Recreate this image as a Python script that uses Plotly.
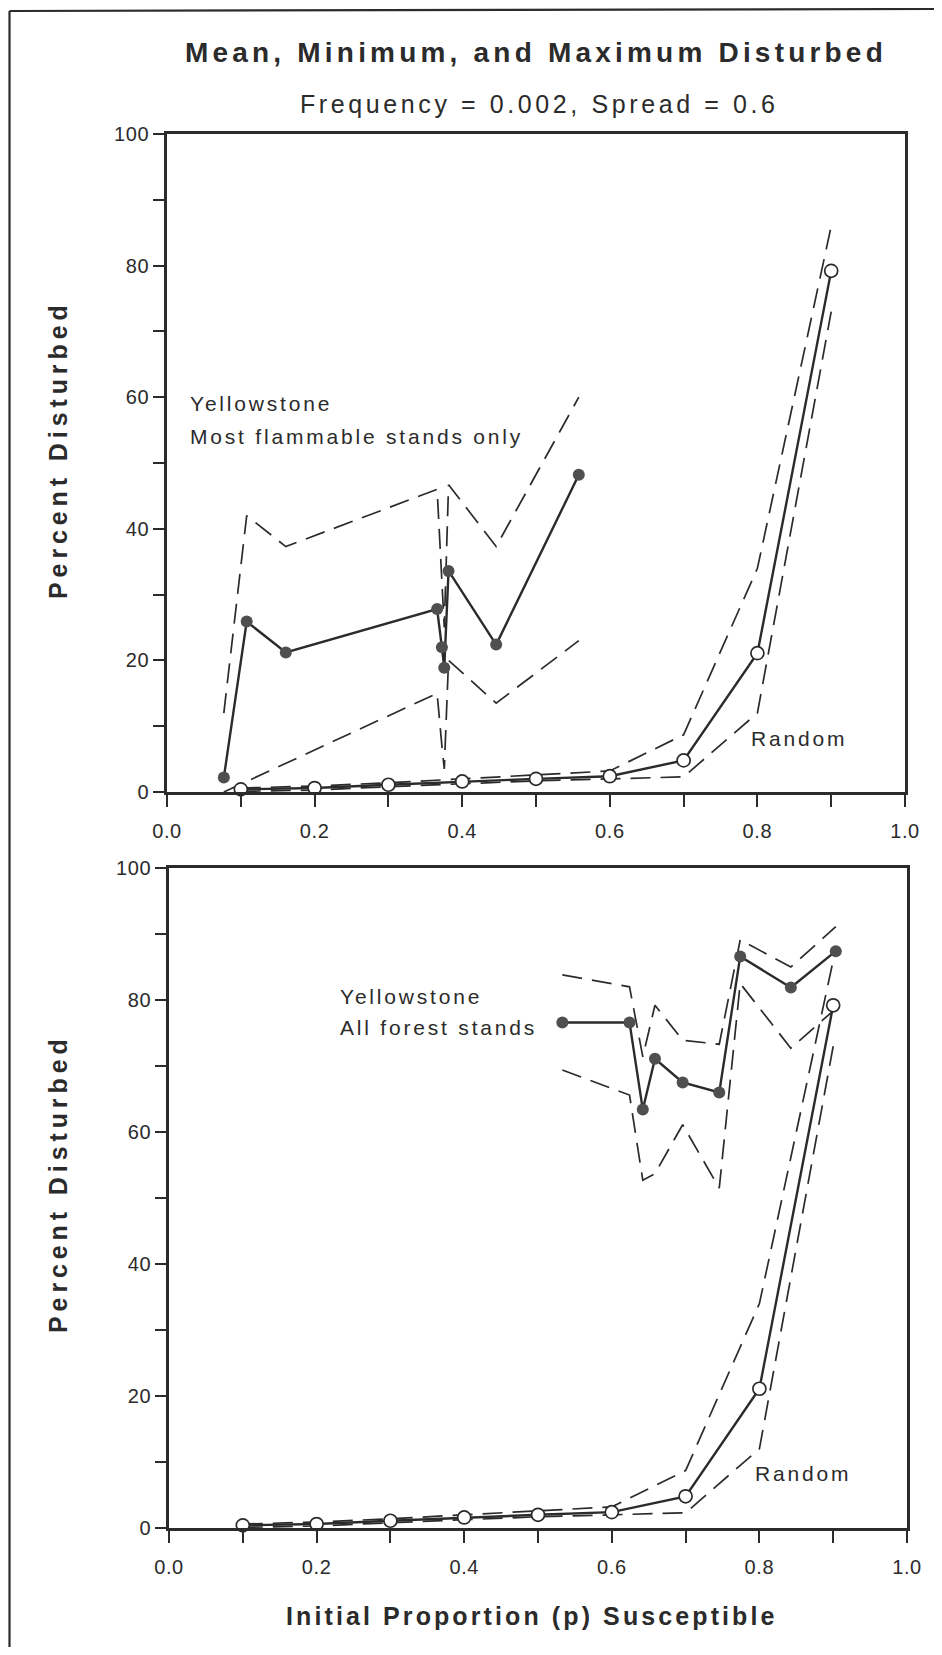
import plotly.graph_objects as go

# The page body has an 8px margin, so the figure is sized to fit inside it.
W, H = 926, 1639
OFF = 8

# ---------------- data ----------------
# Top panel: Yellowstone, most flammable stands only
yf_x = [0.077, 0.108, 0.161, 0.366, 0.3725, 0.3757, 0.3815, 0.446, 0.558]
yf_mean = [2.2, 25.9, 21.2, 27.8, 22.0, 18.9, 33.6, 22.4, 48.2]
yf_max = [12.0, 42.0, 37.3, 46.0, 32.0, 25.0, 46.7, 37.3, 60.0]
yf_min = [0.0, 1.6, 4.4, 15.0, 7.0, 3.5, 20.0, 13.5, 23.0]

# Bottom panel: Yellowstone, all forest stands
ya_x = [0.533, 0.624, 0.642, 0.6585, 0.696, 0.7456, 0.774, 0.8426, 0.9035]
ya_mean = [76.6, 76.6, 63.4, 71.1, 67.5, 66.0, 86.6, 81.9, 87.4]
ya_max = [83.8, 82.0, 71.4, 79.2, 73.9, 73.3, 89.1, 85.0, 91.1]
ya_min = [69.4, 65.6, 52.7, 53.7, 61.1, 51.5, 82.5, 72.7, 78.7]

# Random landscapes (both panels)
rnd_x = [0.1, 0.2, 0.3, 0.4, 0.5, 0.6, 0.7, 0.8, 0.9]
rnd_mean = [0.4, 0.6, 1.1, 1.6, 2.0, 2.4, 4.8, 21.1, 79.2]
rnd_max = [0.6, 0.9, 1.4, 2.0, 2.6, 3.2, 8.7, 34.0, 86.0]
rnd_min = [0.1, 0.3, 0.8, 1.3, 1.7, 2.0, 2.3, 12.0, 73.0]

x_ticks = [0.0, 0.2, 0.4, 0.6, 0.8, 1.0]
x_ticklabels = ["0.0", "0.2", "0.4", "0.6", "0.8", "1.0"]
y_ticks = [0, 20, 40, 60, 80, 100]
y_ticklabels = ["0", "20", "40", "60", "80", "100"]

title_text = "Mean, Minimum, and Maximum Disturbed"
subtitle_text = "Frequency = 0.002, Spread = 0.6"
y_title = "Percent Disturbed"
x_title = "Initial Proportion (p) Susceptible"

# ---------------- style ----------------
FONT = "Liberation Sans, Arial, Helvetica, sans-serif"
INK = "#2b2b2b"
DASH = "20px,10px"


def sp(text, ls):
    return f'<span style="letter-spacing:{ls}px">{text}</span>'


fig = go.Figure()


def add_group(xs, mean, mx, mn, axis, filled):
    xa, ya = axis
    for series in (mx, mn):
        fig.add_trace(go.Scatter(
            x=xs, y=series, mode="lines", xaxis=xa, yaxis=ya,
            line=dict(color=INK, width=1.7, dash=DASH),
            showlegend=False, hoverinfo="skip", cliponaxis=False))
    if filled:
        marker = dict(size=12, color="#4f4f4f", line=dict(width=0))
    else:
        marker = dict(size=13, color="white", line=dict(color=INK, width=1.7))
    fig.add_trace(go.Scatter(
        x=xs, y=mean, mode="lines+markers", xaxis=xa, yaxis=ya,
        line=dict(color=INK, width=2.4), marker=marker,
        showlegend=False, cliponaxis=False))


add_group(yf_x, yf_mean, yf_max, yf_min, ("x", "y"), True)
add_group(rnd_x, rnd_mean, rnd_max, rnd_min, ("x", "y"), False)
add_group(ya_x, ya_mean, ya_max, ya_min, ("x2", "y2"), True)
add_group(rnd_x, rnd_mean, rnd_max, rnd_min, ("x2", "y2"), False)

tick_font = dict(family=FONT, size=20, color=INK)


def xaxis_cfg(domain, anchor):
    return dict(domain=domain, anchor=anchor, range=[0, 1], showgrid=False, zeroline=False,
                automargin=False,
                showline=True, mirror=True, linecolor=INK, linewidth=2.7,
                ticks="outside", ticklen=12, tickwidth=1.5, tickcolor=INK,
                ticklabelstandoff=7,
                tickvals=x_ticks, ticktext=[sp(t, 0.6) for t in x_ticklabels],
                tickfont=tick_font,
                minor=dict(dtick=0.1, tick0=0, ticks="outside", ticklen=12,
                           tickwidth=1.5, tickcolor=INK, showgrid=False))


def yaxis_cfg(domain, anchor):
    return dict(domain=domain, anchor=anchor, range=[0, 100], showgrid=False, zeroline=False,
                automargin=False,
                showline=True, mirror=True, linecolor=INK, linewidth=2.7,
                ticks="outside", ticklen=11, tickwidth=1.5, tickcolor=INK,
                tickvals=y_ticks, ticktext=[sp(t, 0.6) for t in y_ticklabels],
                tickfont=tick_font,
                minor=dict(dtick=10, tick0=0, ticks="outside", ticklen=11,
                           tickwidth=1.5, tickcolor=INK, showgrid=False))


def px(x):
    return (x - OFF) / W


def py(y):
    return 1 - (y - OFF) / H


fig.update_layout(
    width=W, height=H, margin=dict(l=0, r=0, t=0, b=0, autoexpand=False),
    paper_bgcolor="white", plot_bgcolor="white",
    font=dict(family=FONT, color=INK),
    xaxis=xaxis_cfg([px(167), px(905)], "y"),
    yaxis=yaxis_cfg([py(792), py(134)], "x"),
    xaxis2=xaxis_cfg([px(169), px(907)], "y2"),
    yaxis2=yaxis_cfg([py(1528), py(868)], "x2"),
)

ann = []
# titles
ann.append(dict(text="<b>" + sp(title_text, 4.2) + "</b>", x=px(536), y=py(53),
                xref="paper", yref="paper", showarrow=False,
                font=dict(family=FONT, size=28, color=INK), xanchor="center", yanchor="middle"))
ann.append(dict(text=sp(subtitle_text, 3.6), x=px(539), y=py(104),
                xref="paper", yref="paper", showarrow=False,
                font=dict(family=FONT, size=25, color=INK), xanchor="center", yanchor="middle"))
# y axis titles
for yc in (450, 1184):
    ann.append(dict(text="<b>" + sp(y_title, 4.9) + "</b>", x=px(58), y=py(yc),
                    xref="paper", yref="paper", showarrow=False, textangle=-90,
                    font=dict(family=FONT, size=25, color=INK), xanchor="center", yanchor="middle"))
# x axis title
ann.append(dict(text="<b>" + sp(x_title, 3.1) + "</b>", x=px(532), y=py(1616),
                xref="paper", yref="paper", showarrow=False,
                font=dict(family=FONT, size=25, color=INK), xanchor="center", yanchor="middle"))

lab_font = dict(family=FONT, size=21, color=INK)
# top panel labels
ann.append(dict(text=sp("Yellowstone", 2.8), x=0.029, y=59.0, xref="x", yref="y",
                showarrow=False, xanchor="left", yanchor="middle", font=lab_font))
ann.append(dict(text=sp("Most flammable stands only", 2.8), x=0.029, y=54.1, xref="x", yref="y",
                showarrow=False, xanchor="left", yanchor="middle", font=lab_font))
ann.append(dict(text=sp("Random", 2.8), x=0.856, y=8.2, xref="x", yref="y",
                showarrow=False, xanchor="center", yanchor="middle", font=lab_font))
# bottom panel labels
ann.append(dict(text=sp("Yellowstone", 2.8), x=0.229, y=80.6, xref="x2", yref="y2",
                showarrow=False, xanchor="left", yanchor="middle", font=lab_font))
ann.append(dict(text=sp("All forest stands", 2.8), x=0.229, y=75.8, xref="x2", yref="y2",
                showarrow=False, xanchor="left", yanchor="middle", font=lab_font))
ann.append(dict(text=sp("Random", 2.8), x=0.859, y=8.2, xref="x2", yref="y2",
                showarrow=False, xanchor="center", yanchor="middle", font=lab_font))

fig.update_layout(annotations=ann)

# page frame (scanned page edge)
fig.add_shape(type="line", xref="paper", yref="paper", x0=px(9.5), y0=py(11), x1=px(934), y1=py(9),
              line=dict(color=INK, width=2.2))
fig.add_shape(type="line", xref="paper", yref="paper", x0=px(9.5), y0=py(11), x1=px(9.5), y1=0,
              line=dict(color=INK, width=2.2))

fig.write_html("out.html")
